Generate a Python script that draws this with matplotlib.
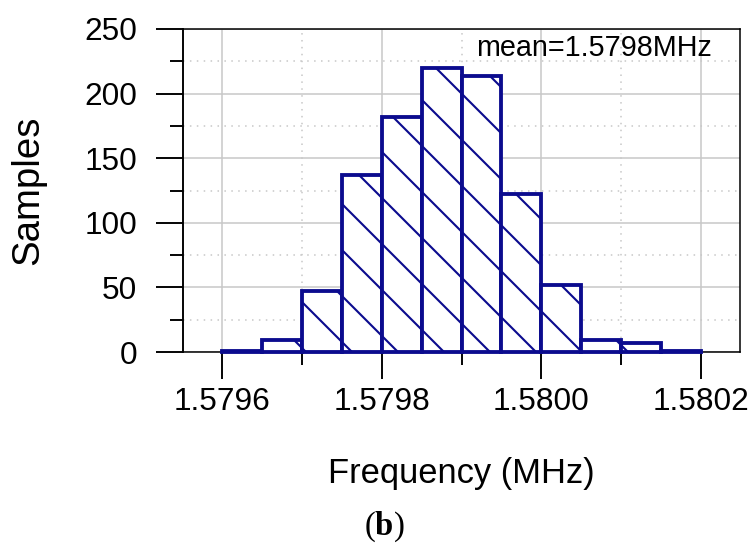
import matplotlib

matplotlib.use("Agg")
import matplotlib.pyplot as plt
from matplotlib.ticker import FormatStrFormatter, MultipleLocator

# histogram of measured frequencies (MHz), 12 bins of 0.05 kHz
bin_left = [1.57960, 1.57965, 1.57970, 1.57975, 1.57980, 1.57985,
            1.57990, 1.57995, 1.58000, 1.58005, 1.58010, 1.58015]
bin_width = 0.00005
counts = [1, 9, 47, 137, 182, 220, 214, 122, 52, 9, 7, 1]
x_ticks = [1.5796, 1.5798, 1.5800, 1.5802]
y_ticks = [0, 50, 100, 150, 200, 250]
mean_label = "mean=1.5798MHz"

NAVY = "#0b0b8e"
GRID = "#c8c8c8"
DPI = 138

plt.rcParams["font.family"] = ["Liberation Sans", "DejaVu Sans"]
plt.rcParams["hatch.color"] = NAVY
plt.rcParams["hatch.linewidth"] = 1.1
plt.rcParams["mathtext.fontset"] = "custom"
plt.rcParams["mathtext.rm"] = "Liberation Serif"
plt.rcParams["mathtext.bf"] = "Liberation Serif:bold"

fig = plt.figure(figsize=(753 / DPI, 550 / DPI), dpi=DPI)
ax = fig.add_axes([183 / 753, 1 - 352 / 550, (740 - 183) / 753, (352 - 29) / 550])

ax.bar(bin_left, counts, width=bin_width, align="edge", facecolor="white",
       edgecolor=NAVY, linewidth=2.0, hatch="\\", zorder=3, clip_on=False)

ax.set_xlim(1.579551, 1.580249)
ax.set_ylim(0, 250)
ax.set_xticks(x_ticks)
ax.set_yticks(y_ticks)
ax.xaxis.set_major_formatter(FormatStrFormatter("%.4f"))
ax.xaxis.set_minor_locator(MultipleLocator(0.0001))
ax.yaxis.set_minor_locator(MultipleLocator(25))

ax.grid(which="major", color=GRID, lw=0.8, ls="-", zorder=0)
ax.grid(which="minor", color=GRID, lw=0.8, ls=(0, (1, 3.5)), zorder=0)
ax.set_axisbelow(True)

ax.tick_params(which="major", direction="out", length=14, width=1.0,
               labelsize=16.5, color="black")
ax.tick_params(which="minor", direction="out", length=6.8, width=1.0, color="black")
ax.tick_params(axis="y", which="major", pad=10)
ax.tick_params(axis="x", which="major", pad=4)

for side in ["top", "right", "bottom"]:
    ax.spines[side].set_linewidth(0.8)
ax.spines["left"].set_linewidth(1.0)

ax.set_ylabel("Samples", fontsize=20)
ax.yaxis.set_label_coords(-0.245, 0.5)
ax.set_xlabel("Frequency (MHz)", fontsize=18)
ax.xaxis.set_label_coords(0.5, -0.325)
ax.xaxis.label.set_va("top")

fig.text(712 / 753, 1 - 56 / 550, mean_label, ha="right", va="baseline", fontsize=15)
fig.text(384 / 753, 1 - 527 / 550, r"($\mathbf{b}$)", ha="center", va="center",
         fontsize=17, family="Liberation Serif")

fig.savefig("out.png", dpi=DPI, facecolor="white")
